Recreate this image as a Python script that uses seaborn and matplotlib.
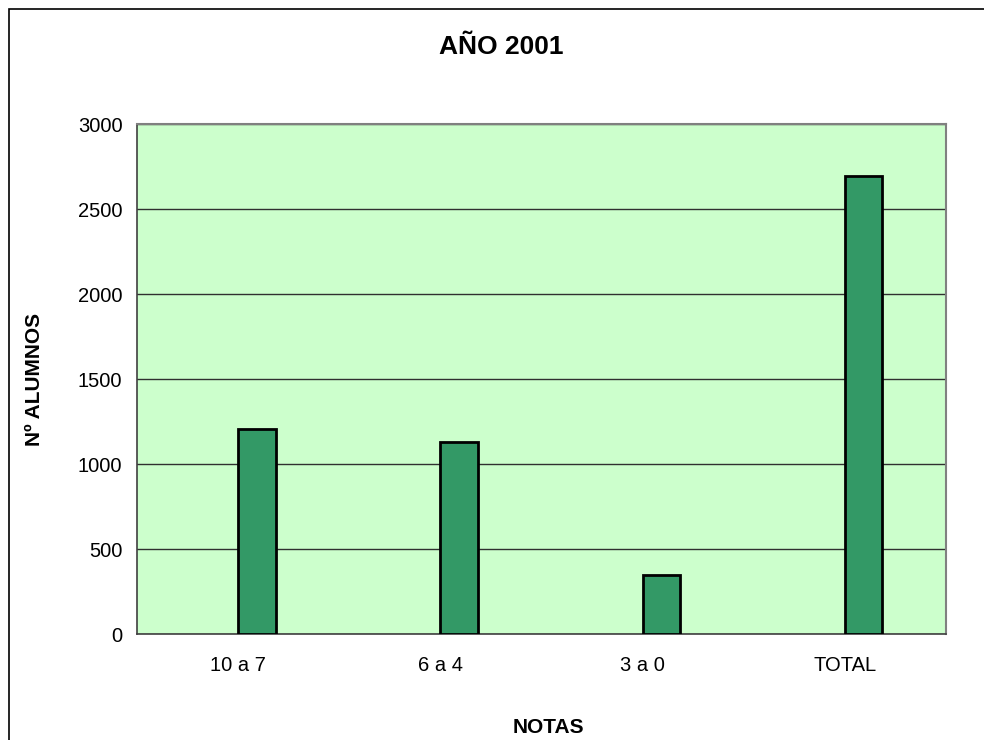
import numpy as np
import pandas as pd
import matplotlib
matplotlib.use("Agg")
import matplotlib.pyplot as plt
import matplotlib.patches as mpatches
import seaborn as sns

# datos
notas = ["10 a 7", "6 a 4", "3 a 0", "TOTAL"]
alumnos = [1208, 1130, 348, 2693]
vacia = [np.nan, np.nan, np.nan, np.nan]  # serie vacia (desplaza las barras como en Excel)
yticks = [0, 500, 1000, 1500, 2000, 2500, 3000]

sns.set_style("white")
plt.rcParams["font.family"] = ["Liberation Sans", "DejaVu Sans"]
plt.rcParams["text.color"] = "black"
plt.rcParams["xtick.color"] = "black"
plt.rcParams["ytick.color"] = "black"
plt.rcParams["axes.labelcolor"] = "black"

df = pd.DataFrame({
    "notas": notas * 2,
    "alumnos": vacia + alumnos,
    "serie": ["s1"] * len(notas) + ["s2"] * len(notas),
})

fig = plt.figure(figsize=(9.84, 7.4), dpi=100)
ax = fig.add_axes([0.1392, 0.1432, 0.8222, 0.6892])

sns.barplot(data=df, x="notas", y="alumnos", hue="serie", hue_order=["s1", "s2"],
            order=notas, palette=["#339966", "#339966"], saturation=1, width=0.37, dodge=True,
            edgecolor="black", linewidth=2, legend=False, ax=ax, zorder=3)

ax.set_facecolor("#CCFFCC")
ax.set_ylim(0, 3000)
ax.set_xlim(-0.5, len(notas) - 0.5)
ax.set_yticks(yticks)
ax.grid(axis="y", color="#303030", lw=1)
ax.set_axisbelow(True)

ax.set_xticks(range(len(notas)))
ax.set_xticklabels(notas)
ax.set_xticks(np.arange(-0.5, len(notas), 1), minor=True)
ax.tick_params(axis="x", which="major", length=0, pad=16, labelsize=14.5)
ax.tick_params(axis="x", which="minor", length=4.5, width=1, color="#404040", direction="out")
ax.tick_params(axis="y", length=4.5, width=1, color="#404040", direction="out", pad=6, labelsize=14.5)

for s in ["left", "bottom"]:
    ax.spines[s].set_color("#404040")
    ax.spines[s].set_linewidth(1.2)
for s in ["top", "right"]:
    ax.spines[s].set_color("#808080")
    ax.spines[s].set_linewidth(1.5)

ax.set_xlabel("NOTAS", fontsize=15, fontweight="bold")
ax.xaxis.set_label_coords(0.508, -0.165)
ax.set_ylabel("Nº ALUMNOS", fontsize=15, fontweight="bold")
ax.yaxis.set_label_coords(-0.115, 0.5)

fig.text(0.509, 0.937, "AÑO 2001", fontsize=19, fontweight="bold", ha="center", va="center")

# marco del grafico
fig.patches.append(mpatches.Rectangle((9 / 984, -0.05), 1.1, 0.05 + (740 - 9) / 740,
                                      transform=fig.transFigure, fill=False,
                                      edgecolor="black", lw=1.2))

fig.savefig("out.png", dpi=100)
